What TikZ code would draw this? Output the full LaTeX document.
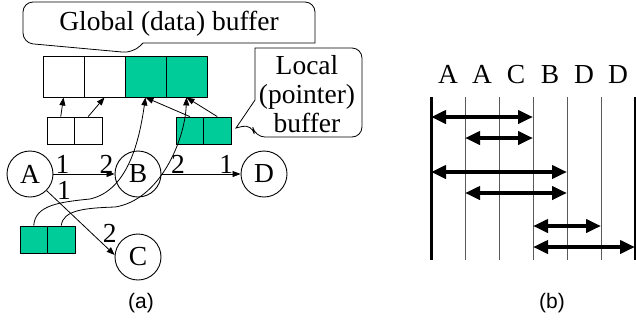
\documentclass[tikz,border=0pt]{standalone}
\usepackage{fontspec}
\setmainfont{Liberation Serif}
\newfontfamily\captionfont{Liberation Sans}
\usetikzlibrary{arrows.meta}
\definecolor{bufgreen}{RGB}{0,204,153}

\begin{document}
\begin{tikzpicture}[x=1pt, y=-1pt,
        font=\fontsize{27.5}{29}\selectfont,
        bigcell/.style={rectangle, draw, line width=0.9pt, inner sep=0pt, minimum width=41pt, minimum height=41pt},
        smallcell/.style={rectangle, draw, line width=0.9pt, inner sep=0pt, minimum width=27.5pt, minimum height=27pt},
        full/.style={fill=bufgreen},
        task/.style={circle, draw, line width=0.9pt, inner sep=0pt, minimum size=46pt},
        link/.style={-{Triangle[length=8pt, width=6pt]}, line width=0.8pt},
        port/.style={inner sep=0pt},
        bubble/.style={line width=0.8pt},
        span/.style={{Triangle[length=15pt, width=13pt]}-{Triangle[length=15pt, width=13pt]}, line width=4pt}
    ]
    \useasboundingbox (0,0) rectangle (636,322);

    % Global buffer
    \node[bigcell] (g1) at (63.5,76.5) {};
    \node[bigcell] (g2) at (104.5,76.5) {};
    \node[bigcell, full] (g3) at (145.5,76.5) {};
    \node[bigcell, full] (g4) at (186.5,76.5) {};

    % Local buffers
    \node[smallcell] (l1) at (60.75,130.5) {};
    \node[smallcell] (l2) at (88.25,130.5) {};
    \node[smallcell, full] (p1) at (189.75,130.5) {};
    \node[smallcell, full] (p2) at (217.25,130.5) {};
    \node[smallcell, full] (q1) at (33.75,239.5) {};
    \node[smallcell, full] (q2) at (61.25,239.5) {};

    % Callouts
    \coordinate (globaltip) at (133,53);
    \coordinate (localtip) at (236,128);
    \node (globaltxt) at (169,24) {Global (data) buffer};
    \draw[bubble] (143,43) -- (315,43) [rounded corners=10pt] -- (315,2) -- (23,2) -- (23,43)
        -- (globaltip) [sharp corners] -- cycle;
    \node[align=center] (localtxt) at (307,94) {Local\\(pointer)\\buffer};
    \draw[bubble] (localtip) -- (255,100) -- (255,48) [rounded corners=10pt] -- (362,48) -- (362,137)
        -- (255,137) -- (252,124) [sharp corners] -- cycle;

    % Tasks
    \node[task] (A) at (30,174) {A};
    \node[task] (B) at (138,174) {B};
    \node[task] (D) at (264,174) {D};
    \node[task] (C) at (138,257) {C};

    \draw[link] (A) -- node[port, pos=0.15, above] {1} node[port, pos=0.87, above] {2} (B);
    \draw[link] (B) -- node[port, pos=0.21, above] {2} node[port, pos=0.82, above] {1} (D);
    \draw[link] (A.-45) -- node[port, pos=0.15, above right] {1} node[port, pos=0.82, above right] {2} (C.175);

    % Pointers into the global buffer
    \draw[link] (l1.north) -- (g1.south);
    \draw[link] (l2.north) -- (g2.south);
    \draw[link] (p1.north) -- (g3.south);
    \draw[link] (p2.north) -- (g4.south);
    \draw[link] (q1.north) .. controls (35,205) and (60,202) .. (90,199)
        .. controls (130,190) and (140,135) .. (g3.south);
    \draw[link] (q2.north) .. controls (63,210) and (85,208) .. (115,207)
        .. controls (160,200) and (185,140) .. (g4.south);

    % Lifetimes
    \foreach \i in {0,...,6} {
        \coordinate (t\i) at (431+34*\i,97);
        \coordinate (b\i) at (431+34*\i,260);
    }
    \foreach \i in {1,...,5}
        \draw[line width=0.8pt, gray!70!black] (t\i) -- (b\i);
    \draw[line width=3pt] (t0) -- (b0);
    \draw[line width=3pt] (t6) -- (b6);

    \node[anchor=base] (colA1) at (448,83) {A};
    \node[anchor=base] (colA2) at (482,83) {A};
    \node[anchor=base] (colC) at (516,83) {C};
    \node[anchor=base] (colB) at (550,83) {B};
    \node[anchor=base] (colD1) at (584,83) {D};
    \node[anchor=base] (colD2) at (618,83) {D};

    \foreach \s/\e/\y in {0/3/117, 1/3/138, 0/4/172, 1/4/193, 3/5/226, 3/6/247}
        \draw[span] (t\s |- 0,\y) -- (t\e |- 0,\y);

    % Captions
    \node[font=\captionfont\fontsize{21}{24}\selectfont] (capa) at (141,303) {(a)};
    \node[font=\captionfont\fontsize{21}{24}\selectfont] (capb) at (552,303) {(b)};
\end{tikzpicture}
\end{document}
